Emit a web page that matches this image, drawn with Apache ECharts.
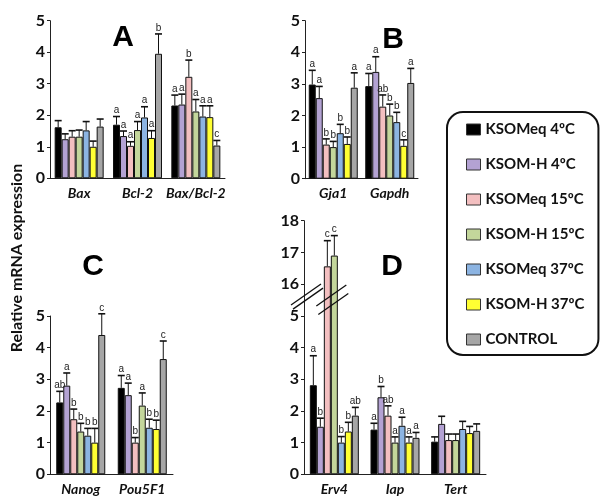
<!DOCTYPE html>
<html>
<head>
<meta charset="utf-8">
<script src="https://cdn.jsdelivr.net/npm/echarts@6.0.0/dist/echarts.min.js"></script>
<style>
  html, body { margin: 0; padding: 0; background: #fff; }
  #chart { width: 600px; height: 497px; }
</style>
</head>
<body>
<div id="chart"></div>
<script>
// treatments (legend order) and their bar colours
const treatments = ['KSOMeq 4ºC', 'KSOM-H 4ºC', 'KSOMeq 15ºC', 'KSOM-H 15ºC', 'KSOMeq 37ºC', 'KSOM-H 37ºC', 'CONTROL'];
const colors = ['#000000', '#b3a2d3', '#f3bfc0', '#c3d69b', '#8cb4e2', '#ffff33', '#a6a6a6'];

// A: apoptosis genes. rows = gene, columns = treatment
const catsA = ['Bax', 'Bcl-2', 'Bax/Bcl-2'];
const meanA = [
  [1.62, 1.24, 1.32, 1.32, 1.52, 1.00, 1.64],
  [1.70, 1.34, 1.03, 1.53, 1.93, 1.28, 3.95],
  [2.31, 2.34, 3.22, 2.12, 1.96, 1.94, 1.04]
];
const topA = [
  [1.83, 1.41, 1.51, 1.53, 1.80, 1.18, 1.88],
  [1.96, 1.50, 1.16, 1.80, 2.27, 1.51, 4.58],
  [2.64, 2.67, 3.75, 2.50, 2.30, 2.30, 1.20]
];
const sigA = [
  ['', '', '', '', '', '', ''],
  ['a', 'a', 'a', 'a', 'a', 'a', 'b'],
  ['a', 'a', 'b', 'a', 'a', 'a', 'c']
];

// B
const catsB = ['Gja1', 'Gapdh'];
const meanB = [
  [2.98, 2.55, 1.08, 1.00, 1.44, 1.10, 2.88],
  [2.93, 3.38, 2.28, 2.00, 1.79, 1.04, 3.03]
];
const topB = [
  [3.43, 2.92, 1.26, 1.18, 1.72, 1.32, 3.35],
  [3.33, 3.86, 2.65, 2.36, 2.10, 1.23, 3.49]
];
const sigB = [
  ['a', 'a', 'b', 'b', 'b', 'b', 'a'],
  ['a', 'a', 'ab', 'b', 'b', 'c', 'a']
];

// C
const catsC = ['Nanog', 'Pou5F1'];
const meanC = [
  [2.27, 2.80, 1.74, 1.35, 1.22, 1.00, 4.40],
  [2.73, 2.50, 1.00, 2.17, 1.47, 1.43, 3.64]
];
const topC = [
  [2.62, 3.20, 2.06, 1.61, 1.45, 1.45, 5.07],
  [3.12, 2.88, 1.16, 2.57, 1.74, 1.71, 4.21]
];
const sigC = [
  ['ab', 'a', 'b', 'b', 'b', 'b', 'c'],
  ['a', 'a', 'b', 'a', 'b', 'b', 'c']
];

// D (broken axis: 5 ... 16)
const catsD = ['Erv4', 'Iap', 'Tert'];
const meanD = [
  [2.81, 1.50, 16.56, 16.90, 1.00, 1.35, 1.85],
  [1.41, 2.43, 1.85, 1.00, 1.53, 1.00, 1.15],
  [1.03, 1.59, 1.08, 1.08, 1.43, 1.30, 1.37]
];
const topD = [
  [3.74, 1.77, 17.37, 17.53, 1.19, 1.64, 2.11],
  [1.61, 2.77, 2.16, 1.18, 1.80, 1.18, 1.32],
  [1.18, 1.83, 1.27, 1.27, 1.67, 1.51, 1.59]
];
const sigD = [
  ['a', 'b', 'c', 'c', 'b', 'b', 'ab'],
  ['a', 'b', 'ab', 'a', 'a', 'a', 'a'],
  ['', '', '', '', '', '', '']
];

const BAR_W = 7;
const FONT = 'Lato';

// values above the break are drawn 10 units lower (16 sits right after 5)
const identity = v => v;
const breakD = v => (v > 5 ? v - 10 : v);

const grids = [
  { left: 50, top: 20.7, width: 175, height: 157.6 },
  { left: 305, top: 20.7, width: 113, height: 158 },
  { left: 50, top: 316, width: 123, height: 158.3 },
  { left: 304, top: 220.7, width: 182, height: 253.6 }
];

const panels = [
  { cats: catsA, mean: meanA, top: topA, sig: sigA, max: 5, disp: identity },
  { cats: catsB, mean: meanB, top: topB, sig: sigB, max: 5, disp: identity },
  { cats: catsC, mean: meanC, top: topC, sig: sigC, max: 5, disp: identity },
  { cats: catsD, mean: meanD, top: topD, sig: sigD, max: 8, disp: breakD }
];

const xAxes = panels.map((p, i) => ({
  type: 'category',
  gridIndex: i,
  data: p.cats,
  axisLine: { lineStyle: { color: '#222', width: 1 } },
  axisTick: { length: 3, lineStyle: { color: '#222' } },
  axisLabel: {
    interval: 0, hideOverlap: false,
    color: '#111', fontFamily: FONT, fontWeight: 'bold', fontStyle: 'italic', fontSize: 14, margin: 8
  }
}));

const yAxes = panels.map((p, i) => ({
  type: 'value',
  gridIndex: i,
  min: 0,
  max: p.max,
  interval: 1,
  splitLine: { show: false },
  axisLine: { show: true, lineStyle: { color: '#222', width: 1 } },
  axisTick: { show: true, length: 3, lineStyle: { color: '#222' } },
  axisLabel: {
    color: '#111', fontFamily: FONT, fontWeight: 'bold', fontSize: 16, margin: 5,
    formatter: v => (i === 3 && v > 5 ? String(v + 10) : String(v))
  }
}));

const series = [];
panels.forEach((p, i) => {
  treatments.forEach((name, k) => {
    series.push({
      name,
      type: 'bar',
      xAxisIndex: i,
      yAxisIndex: i,
      barWidth: BAR_W,
      barGap: '0%',
      data: p.mean.map(row => p.disp(row[k])),
      itemStyle: { color: colors[k], borderColor: '#111', borderWidth: 1 }
    });
  });
  const errData = [];
  p.mean.forEach((row, c) => row.forEach((m, k) => errData.push([c, k, p.disp(m), p.disp(p.top[c][k])])));
  series.push({
    type: 'custom',
    xAxisIndex: i,
    yAxisIndex: i,
    z: 3,
    silent: true,
    data: errData,
    renderItem(params, api) {
      const c = api.value(0), k = api.value(1);
      const base = api.coord([c, api.value(2)]);
      const top = api.coord([c, api.value(3)]);
      const x = base[0] + (k - 3) * BAR_W;
      const sig = p.sig[c][k];
      const children = [
        { type: 'line', shape: { x1: x, y1: base[1], x2: x, y2: top[1] }, style: { stroke: '#111', lineWidth: 1 } },
        { type: 'line', shape: { x1: x - 3.5, y1: top[1], x2: x + 3.5, y2: top[1] }, style: { stroke: '#111', lineWidth: 1.6 } }
      ];
      if (sig) {
        children.push({
          type: 'text', x: x, y: top[1] - 1,
          style: { text: sig, textAlign: 'center', textVerticalAlign: 'bottom', font: '10px "Liberation Sans"', fill: '#222' }
        });
      }
      return { type: 'group', children };
    }
  });
});

const letters = [['A', 123, 38], ['B', 393, 40], ['C', 93, 267], ['D', 392, 267]];

const chart = echarts.init(document.getElementById('chart'), null, { renderer: 'canvas' });
chart.setOption({
  animation: false,
  backgroundColor: '#fff',
  grid: grids,
  xAxis: xAxes,
  yAxis: yAxes,
  legend: {
    data: treatments,
    orient: 'vertical',
    left: 447,
    top: 112,
    padding: [10, 14, 8, 19],
    itemWidth: 14,
    itemHeight: 11,
    itemGap: 20,
    icon: 'rect',
    borderColor: '#111',
    borderWidth: 2,
    borderRadius: 16,
    selectedMode: false,
    itemStyle: { borderColor: '#333', borderWidth: 1 },
    textStyle: { fontFamily: FONT, fontWeight: 'bold', fontSize: 15, color: '#111', lineHeight: 14 }
  },
  series
});

// decorations: panel letters, y-axis title and the break marks of panel D
const brk = chart.convertToPixel({ xAxisIndex: 3, yAxisIndex: 3 }, [0, 5.5]);
const axisX = grids[3].left;
const barX = brk[0] - 0.5 * BAR_W;
function slash(cx, cy) {
  return { type: 'line', z: 10, shape: { x1: cx - 15, y1: cy + 10.5, x2: cx + 15, y2: cy - 10.5 }, style: { stroke: '#111', lineWidth: 1.3 } };
}
chart.setOption({
  graphic: [
    ...letters.map(([t, x, y]) => ({
      type: 'text', x, y,
      style: { text: t, textAlign: 'center', textVerticalAlign: 'middle', font: 'bold 30px "Liberation Sans"', fill: '#000' }
    })),
    {
      type: 'text', x: 17, y: 258, rotation: Math.PI / 2,
      style: { text: 'Relative mRNA expression', textAlign: 'center', textVerticalAlign: 'middle', font: 'bold 16px Lato', fill: '#111' }
    },
    slash(axisX + 2, brk[1] - 5.5),
    slash(axisX + 4, brk[1] - 1.3),
    slash(barX + 0.5, brk[1] - 4.5),
    slash(barX + 2.5, brk[1] + 4)
  ]
});
</script>
</body>
</html>
